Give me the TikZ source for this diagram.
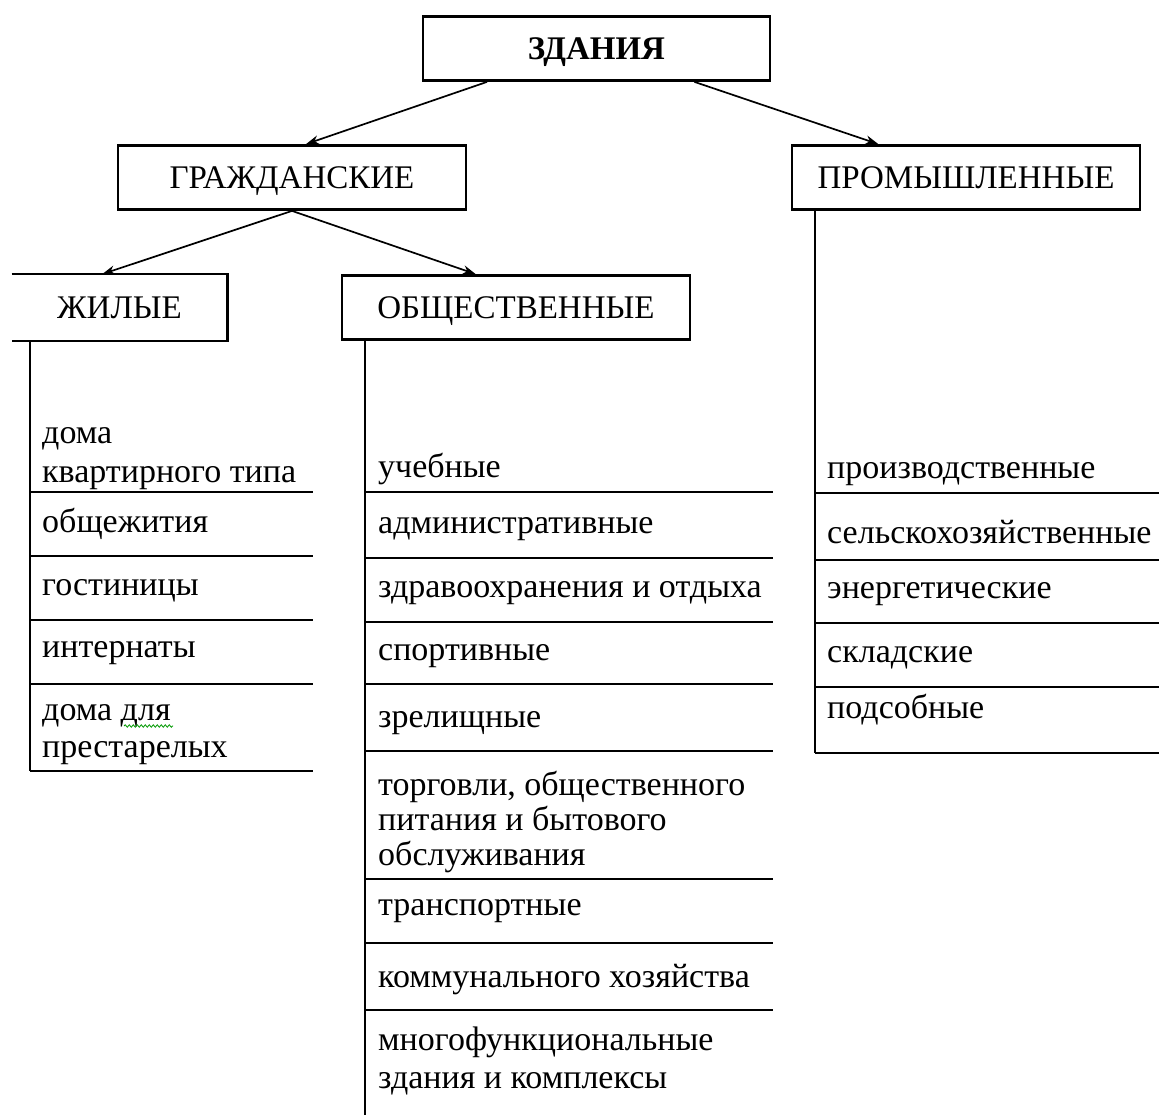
\documentclass[tikz,border=0pt]{standalone}
\usepackage{fontspec}
\setmainfont{Liberation Serif}
\usetikzlibrary{arrows.meta,calc,decorations.pathmorphing}
\tikzset{
  hdr/.style={draw, line width=2.8pt, minimum height=64pt, inner sep=0pt,
    text height=22pt, text depth=0pt,
    font=\fontsize{33}{38}\selectfont},
  item/.style={anchor=base west, inner sep=0pt, font=\fontsize{34}{39}\selectfont},
  sep/.style={line width=1.7pt},
  arr/.style={line width=1.7pt, -{Stealth[length=13pt,width=9pt]}}
}
\begin{document}
\begin{tikzpicture}[x=1pt,y=-1pt]
\useasboundingbox[fill=white] (0,0) rectangle (1159,1115);
% header boxes
\node[hdr, minimum width=347pt, font=\fontsize{33}{38}\selectfont\bfseries] (zd) at (596.5,48.5) {ЗДАНИЯ};
\node[hdr, minimum width=348pt] (gr) at (292,177.5) {ГРАЖДАНСКИЕ};
\node[hdr, minimum width=348pt] (pr) at (966,177.5) {ПРОМЫШЛЕННЫЕ};
\node[hdr, draw=none, minimum width=213pt] (zh) at (119.5,307.5) {ЖИЛЫЕ};
\draw[line width=2.8pt] (zh.north west) -- (zh.north east) -- (zh.south east) -- (zh.south west);
\node[hdr, minimum width=348pt] (ob) at (516,307.5) {ОБЩЕСТВЕННЫЕ};
% arrows
\draw[arr] ($(zd.south west)!0.187!(zd.south east)$) -- ($(gr.north west)!0.54!(gr.north east)$);
\draw[arr] ($(zd.south west)!0.78!(zd.south east)$) -- ($(pr.north west)!0.25!(pr.north east)$);
\draw[arr] (gr.south) -- ($(zh.north west)!0.42!(zh.north east)$);
\draw[arr] (gr.south) -- ($(ob.north west)!0.385!(ob.north east)$);
% ---- ЖИЛЫЕ list
\coordinate (zhA) at (30,340);
\coordinate (zhB) at (30,771);
\draw[sep] (zhA) -- (zhB);
\foreach \y in {492,556,620,684,771} \draw[sep] (30,\y) -- (313,\y);
\node[item] (z1a) at (42,443) {дома};
\node[item] (z1b) at (42,482) {квартирного типа};
\node[item] (z2) at (42,532) {общежития};
\node[item] (z3) at (42,595) {гостиницы};
\node[item] (z4) at (42,657) {интернаты};
\node[item] (z5a) at (42,720) {дома для};
\node[item] (z5b) at (42,757) {престарелых};
\draw[green!60!black, line width=0.8pt, decorate, decoration={snake, amplitude=1.2pt, segment length=4pt}] (124,726) -- (173,726);
% ---- ОБЩЕСТВЕННЫЕ list
\coordinate (obA) at (365,340);
\coordinate (obB) at (365,1115);
\draw[sep] (obA) -- (obB);
\foreach \y in {492,558,622,684,751,879,943,1010} \draw[sep] (365,\y) -- (773,\y);
\node[item] (o1) at (378,477) {учебные};
\node[item] (o2) at (378,533) {административные};
\node[item] (o3) at (378,597) {здравоохранения и отдыха};
\node[item] (o4) at (378,660) {спортивные};
\node[item] (o5) at (378,727) {зрелищные};
\node[item] (o6a) at (378,795) {торговли, общественного};
\node[item] (o6b) at (378,830) {питания и бытового};
\node[item] (o6c) at (378,865) {обслуживания};
\node[item] (o7) at (378,915) {транспортные};
\node[item] (o8) at (378,987) {коммунального хозяйства};
\node[item] (o9a) at (378,1050) {многофункциональные};
\node[item] (o9b) at (378,1088) {здания и комплексы};
% ---- ПРОМЫШЛЕННЫЕ list
\coordinate (prA) at (815,210);
\coordinate (prB) at (815,753);
\draw[sep] (prA) -- (prB);
\foreach \y in {493,560,623,687,753} \draw[sep] (815,\y) -- (1159,\y);
\node[item] (p1) at (827,478) {производственные};
\node[item] (p2) at (827,543) {сельскохозяйственные};
\node[item] (p3) at (827,598) {энергетические};
\node[item] (p4) at (827,662) {складские};
\node[item] (p5) at (827,718) {подсобные};
\end{tikzpicture}
\end{document}
